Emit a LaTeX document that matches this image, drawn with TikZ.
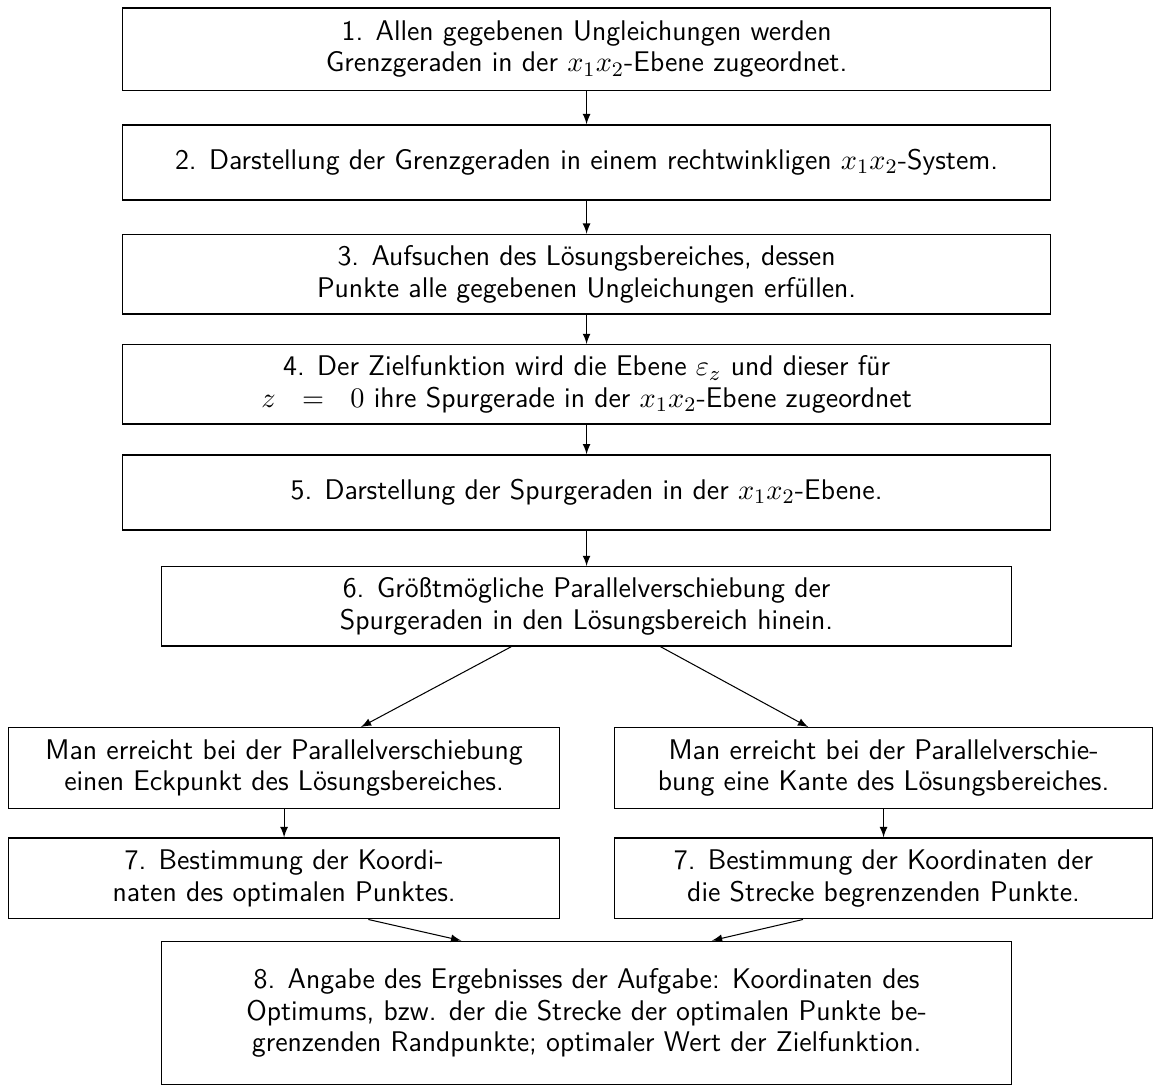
\documentclass[tikz,border=0pt]{standalone}
\usepackage{fontspec}
\usepackage{amsmath}
\usepackage{amssymb}
\usepackage{tikz}

\begin{document}
\begin{tikzpicture}[
			stufe/.style={draw, line width=0.5pt, align=center, font=\sffamily\fontsize{11}{12.2}\selectfont, minimum height=1.08cm},
			pfeil/.style={-latex, line width=0.4pt}
		]
		\useasboundingbox (0,0) rectangle (15.74,14.81);

		\node[stufe, minimum width=12.63cm, minimum height=1.12cm] (s1) at (7.98,14.14) {1. Allen gegebenen Ungleichungen werden\\ Grenzgeraden in der $x_1x_2$-Ebene zugeordnet.};
		\node[stufe, minimum width=12.63cm, minimum height=1.02cm] (s2) at (7.98,12.60) {2. Darstellung der Grenzgeraden in einem rechtwinkligen $x_1x_2$-System.};
		\node[stufe, minimum width=12.63cm] (s3) at (7.98,11.08) {3. Aufsuchen des Lösungsbereiches, dessen\\ Punkte alle gegebenen Ungleichungen erfüllen.};
		\node[stufe, minimum width=12.63cm] (s4) at (7.98,9.58) {4. Der Zielfunktion wird die Ebene $\varepsilon_z$ und dieser für\\ $z\ \ =\ \ 0$ ihre Spurgerade in der $x_1x_2$-Ebene zugeordnet};
		\node[stufe, minimum width=12.63cm, minimum height=1.02cm] (s5) at (7.98,8.11) {5. Darstellung der Spurgeraden in der $x_1x_2$-Ebene.};
		\node[stufe, minimum width=11.57cm] (s6) at (7.98,6.56) {6. Größtmögliche Parallelverschiebung der\\ Spurgeraden in den Lösungsbereich hinein.};

		\draw[pfeil] (s1) -- (s2);
		\draw[pfeil] (s2) -- (s3);
		\draw[pfeil] (s3) -- (s4);
		\draw[pfeil] (s4) -- (s5);
		\draw[pfeil] (s5) -- (s6);

		% zwei Faelle
		\node[stufe, minimum width=7.49cm, minimum height=1.10cm] (ecke) at (3.865,4.36) {Man erreicht bei der Parallelverschiebung\\ einen Eckpunkt des Lösungsbereiches.};
		\node[stufe, minimum width=7.32cm, minimum height=1.10cm] (kante) at (12.02,4.36) {Man erreicht bei der Parallelverschie-\\ bung eine Kante des Lösungsbereiches.};

		\node[stufe, minimum width=7.49cm, minimum height=1.10cm] (s7e) at (3.865,2.86) {7. Bestimmung der Koordi-\\ naten des optimalen Punktes.};
		\node[stufe, minimum width=7.32cm, minimum height=1.10cm] (s7k) at (12.02,2.86) {7. Bestimmung der Koordinaten der\\ die Strecke begrenzenden Punkte.};

		\node[stufe, minimum width=11.57cm, minimum height=1.95cm] (s8) at (7.98,1.03) {8. Angabe des Ergebnisses der Aufgabe: Koordinaten des\\ Optimums, bzw. der die Strecke der optimalen Punkte be-\\ grenzenden Randpunkte; optimaler Wert der Zielfunktion.};

		\draw[pfeil] (s6) -- (ecke);
		\draw[pfeil] (s6) -- (kante);
		\draw[pfeil] (ecke) -- (s7e);
		\draw[pfeil] (kante) -- (s7k);
		\draw[pfeil] (s7e.-26) -- (s8.150);
		\draw[pfeil] (s7k.-153) -- (s8.30);
	\end{tikzpicture}
\end{document}
